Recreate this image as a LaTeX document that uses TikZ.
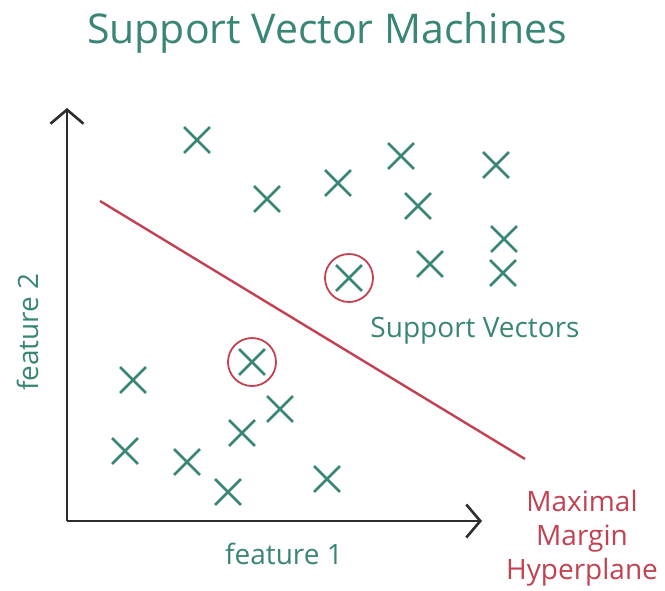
\documentclass[tikz,border=0pt]{standalone}
\usepackage{fontspec}
\setmainfont{Open Sans}
\usetikzlibrary{arrows.meta,shapes.misc}
\definecolor{svteal}{RGB}{58,134,118}
\definecolor{svred}{RGB}{194,66,82}
\definecolor{axisgrey}{RGB}{45,45,45}
\tikzset{
  pt/.style={cross out, draw=svteal, line width=2.8pt, minimum size=23pt, inner sep=0pt},
  sv/.style={circle, draw=svred, line width=1.8pt, minimum size=48pt, inner sep=0pt},
  axis/.style={draw=axisgrey, line width=2.6pt, -{Straight Barb[length=14pt,width=33pt,line width=2.6pt]}},
  plane/.style={draw=svred, line width=2.4pt},
  lbl/.style={text=svteal, font=\fontsize{28}{32}\selectfont, inner sep=0pt},
}
\begin{document}
\begin{tikzpicture}[x=1pt,y=-1pt]
\useasboundingbox (0,0) rectangle (665,590);
% title
\node[text=svteal, font=\fontsize{41}{48}\selectfont, anchor=base, inner sep=0pt] (title) at (327,43) {Support Vector Machines};
% axes
\coordinate (origin) at (67,521);
\coordinate (ytop) at (67,108);
\coordinate (xend) at (482,521);
\draw[axis] (origin) -- (ytop);
\draw[axis] (origin) -- (xend);
\node[lbl, rotate=90, anchor=base] (f2) at (38,332) {feature 2};
\node[lbl, anchor=base] (f1) at (284,564) {feature 1};
% separating hyperplane
\coordinate (h1) at (100,201);
\coordinate (h2) at (525,459);
\draw[plane] (h1) -- (h2);
\node[text=svred, font=\fontsize{28}{34}\selectfont, align=center, anchor=base, inner sep=0pt] (hp) at (582,579) {Maximal\\Margin\\Hyperplane};
% upper class
\node[pt] (a1) at (197,140) {};
\node[pt] (a2) at (267,199) {};
\node[pt] (a3) at (338,183) {};
\node[pt] (a4) at (401,156) {};
\node[pt] (a5) at (418,206) {};
\node[pt] (a6) at (496,165) {};
\node[pt] (a7) at (504,239) {};
\node[pt] (a8) at (503,273) {};
\node[pt] (a9) at (430,264) {};
\node[pt] (a10) at (349,278) {};
% lower class
\node[pt] (b1) at (252,362) {};
\node[pt] (b2) at (133,380) {};
\node[pt] (b3) at (280,409) {};
\node[pt] (b4) at (242,433) {};
\node[pt] (b5) at (125,451) {};
\node[pt] (b6) at (187,462) {};
\node[pt] (b7) at (228,492) {};
\node[pt] (b8) at (327,479) {};
% support vectors
\node[sv] (s1) at (a10) {};
\node[sv] (s2) at (b1) {};
\node[lbl, anchor=base] (svl) at (475,337) {Support Vectors};
\end{tikzpicture}
\end{document}
